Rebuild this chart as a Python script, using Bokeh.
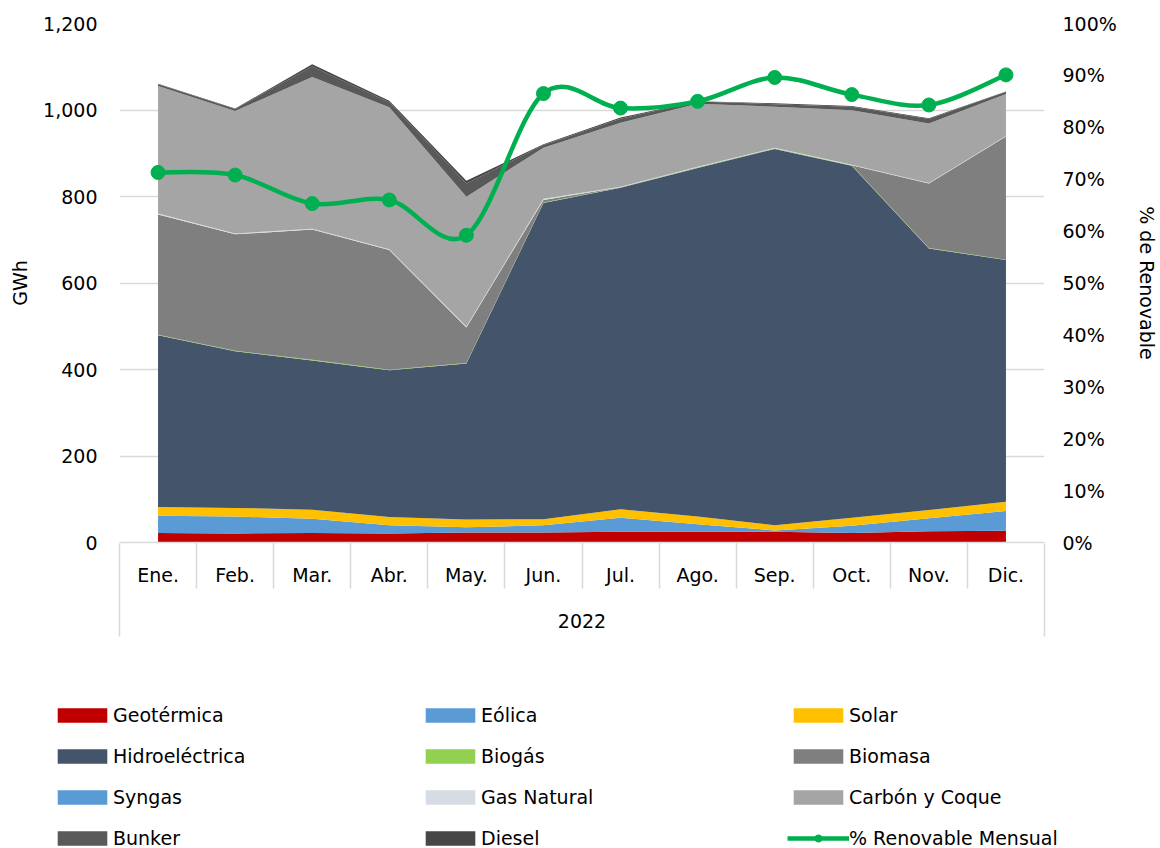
import numpy as np
from bokeh.plotting import figure
from bokeh.layouts import column
from bokeh.models import (ColumnDataSource, Range1d, LinearAxis, FixedTicker,
                          SingleIntervalTicker, CustomJSTickFormatter, NumeralTickFormatter,
                          PrintfTickFormatter, Legend, LegendItem)
from bokeh.embed import file_html
from bokeh.resources import INLINE

# ---------------- data ----------------
months = ["Ene.", "Feb.", "Mar.", "Abr.", "May.", "Jun.", "Jul.", "Ago.", "Sep.", "Oct.", "Nov.", "Dic."]
year_label = "2022"
geotermica = [22, 21, 22, 21, 23, 23, 25, 25, 25, 22, 26, 27]
eolica = [40, 39, 33, 19, 12, 17, 32, 17, 3, 17, 30, 46]
solar = [20, 20, 21, 19, 18, 14, 20, 18, 12, 18, 19, 21]
hidroelectrica = [397, 362, 345, 339, 361, 731, 743, 806, 870, 814, 605, 559]
biogas = [1.5, 1.5, 1.5, 1.2, 1.2, 1.0, 1.0, 1.0, 1.0, 1.0, 1.0, 1.0]
biomasa = [278, 269, 301, 277, 82, 6, 0.5, 0.5, 0.5, 0.5, 149, 285]
syngas = [0, 0, 0, 0, 0, 0, 0, 0, 0, 0, 0, 0]
gas_natural = [2, 2, 2, 2, 2, 3, 1, 1, 1, 1, 1, 1]
carbon_coque = [295, 283, 351, 328, 300, 118, 148, 146, 95, 126, 138, 97]
bunker = [4, 5, 24, 12, 31, 6, 9, 5, 6, 8, 10, 5]
diesel = [1, 1, 5, 3, 6, 2, 3, 1, 2, 2, 2, 1]
pct_renovable = [71.3, 70.8, 65.3, 66.0, 59.2, 86.5, 83.7, 85.0, 89.6, 86.3, 84.3, 90.1]

series_keys = ["geotermica", "eolica", "solar", "hidroelectrica", "biogas", "biomasa",
               "syngas", "gas_natural", "carbon_coque", "bunker", "diesel"]
series_names = ["Geotérmica", "Eólica", "Solar", "Hidroeléctrica", "Biogás", "Biomasa",
                "Syngas", "Gas Natural", "Carbón y Coque", "Bunker", "Diesel"]
series_colors = ["#C00000", "#5B9BD5", "#FFC000", "#44546A", "#92D050", "#7F7F7F",
                 "#5B9BD5", "#D6DCE4", "#A5A5A5", "#595959", "#474747"]
line_name = "% Renovable Mensual"
line_color = "#00B050"

FONT = "DejaVu Sans"
FS = "19px"
GRID = "#D9D9D9"

n = len(months)
xpos = [i + 0.5 for i in range(n)]  # category centres

src = ColumnDataSource(dict(x=xpos, month=months, geotermica=geotermica, eolica=eolica, solar=solar,
                            hidroelectrica=hidroelectrica, biogas=biogas, biomasa=biomasa,
                            syngas=syngas, gas_natural=gas_natural, carbon_coque=carbon_coque,
                            bunker=bunker, diesel=diesel, pct=pct_renovable))

H1 = 690
p = figure(width=1160, height=H1, output_backend="svg", toolbar_location=None,
           x_range=Range1d(0, n), y_range=Range1d(0, 1200),
           x_axis_location=None,
           min_border_left=119, min_border_right=116, min_border_top=23,
           min_border_bottom=H1 - 23 - 519)
p.frame_align = False
p.outline_line_color = None
p.background_fill_color = None
p.border_fill_color = "white"
p.extra_y_ranges = {"pct": Range1d(0, 100)}

p.xgrid.visible = False
p.ygrid.grid_line_color = GRID
p.ygrid.grid_line_width = 1.5

# left axis
ya = p.yaxis[0]
ya.ticker = SingleIntervalTicker(interval=200)
ya.formatter = NumeralTickFormatter(format="0,0")
ya.axis_line_color = None
ya.major_tick_line_color = None
ya.minor_tick_line_color = None
ya.major_tick_out = 0
ya.minor_tick_out = 0
ya.major_label_standoff = 22
ya.major_label_text_font = FONT
ya.major_label_text_font_size = FS
ya.major_label_text_color = "#000000"
ya.axis_label = "GWh"
ya.axis_label_standoff = 9
ya.axis_label_text_font = FONT
ya.axis_label_text_font_size = FS
ya.axis_label_text_font_style = "normal"
ya.axis_label_text_color = "#000000"

# right axis
ra = LinearAxis(y_range_name="pct", ticker=SingleIntervalTicker(interval=10),
                formatter=PrintfTickFormatter(format="%d%%"))
ra.axis_line_color = None
ra.major_tick_line_color = None
ra.minor_tick_line_color = None
ra.major_tick_out = 0
ra.minor_tick_out = 0
ra.major_label_standoff = 18
ra.major_label_text_font = FONT
ra.major_label_text_font_size = FS
ra.major_label_text_color = "#000000"
ra.axis_label = "% de Renovable"
ra.axis_label_standoff = 16
ra.axis_label_text_font = FONT
ra.axis_label_text_font_size = FS
ra.axis_label_text_font_style = "normal"
ra.axis_label_text_color = "#000000"
p.add_layout(ra, "right")

# month axis with separators
ax1 = LinearAxis(ticker=FixedTicker(ticks=xpos, minor_ticks=list(range(1, n))),
                 formatter=CustomJSTickFormatter(args=dict(months=months),
                                                 code="return months[Math.floor(tick)]"))
ax1.axis_line_color = GRID
ax1.axis_line_width = 1.5
ax1.major_tick_line_color = None
ax1.major_tick_out = 0
ax1.major_tick_in = 0
ax1.minor_tick_line_color = GRID
ax1.minor_tick_line_width = 1.5
ax1.minor_tick_out = 46
ax1.minor_tick_in = 0
ax1.major_label_standoff = -25
ax1.major_label_text_font = FONT
ax1.major_label_text_font_size = FS
ax1.major_label_text_color = "#000000"
p.add_layout(ax1, "below")

# year group axis
ax2 = LinearAxis(ticker=FixedTicker(ticks=[], minor_ticks=[0, n]))
ax2.axis_line_color = None
ax2.major_tick_line_color = None
ax2.major_tick_out = 0
ax2.major_tick_in = 0
ax2.major_label_standoff = 0
ax2.minor_tick_line_color = GRID
ax2.minor_tick_line_width = 1.5
ax2.minor_tick_in = 45
ax2.minor_tick_out = 48
ax2.axis_label = year_label
ax2.axis_label_standoff = -23
ax2.axis_label_text_font = FONT
ax2.axis_label_text_font_size = FS
ax2.axis_label_text_font_style = "normal"
ax2.axis_label_text_color = "#000000"
p.add_layout(ax2, "below")

# stacked areas
area_renderers = p.varea_stack(stackers=series_keys, x="x", color=series_colors, source=src)

# smoothed line (Excel-like cubic bezier through the monthly values)
xs = np.array(xpos, dtype=float)
ys = np.array(pct_renovable, dtype=float)
def at(a, i):
    return a[min(max(i, 0), n - 1)]
x0 = xs[:-1]; y0 = ys[:-1]; x1 = xs[1:]; y1 = ys[1:]
cx0 = np.array([xs[i] + (at(xs, i + 1) - at(xs, i - 1)) / 6 for i in range(n - 1)])
cy0 = np.array([ys[i] + (at(ys, i + 1) - at(ys, i - 1)) / 6 for i in range(n - 1)])
cx1 = np.array([xs[i + 1] - (at(xs, i + 2) - at(xs, i)) / 6 for i in range(n - 1)])
cy1 = np.array([ys[i + 1] - (at(ys, i + 2) - at(ys, i)) / 6 for i in range(n - 1)])
bz = p.bezier(x0=x0, y0=y0, x1=x1, y1=y1, cx0=cx0, cy0=cy0, cx1=cx1, cy1=cy1,
              line_color=line_color, line_width=4.5, line_cap="round",
              y_range_name="pct")
sc = p.scatter(x="x", y="pct", source=src, size=14, color=line_color, y_range_name="pct")

# ---------------- legend strip (separate figure below the chart) ----------------
# same series drawn into a range that shows none of them; only their legend swatches appear
H2 = 848 - H1
q = figure(width=1160, height=H2, output_backend="svg", toolbar_location=None,
           x_range=Range1d(0, n), y_range=Range1d(-10, -5),
           x_axis_location=None, y_axis_location=None,
           min_border_left=0, min_border_right=0, min_border_top=0, min_border_bottom=0)
q.frame_align = False
q.outline_line_color = None
q.grid.visible = False
q.background_fill_color = None
q.border_fill_color = "white"

proxy = q.varea_stack(stackers=series_keys, x="x", color=series_colors, source=src)
lp = q.line(x="x", y="pct", source=src, line_color=line_color, line_width=4.5)
sp = q.scatter(x="x", y="pct", source=src, size=14, color=line_color)

items = [LegendItem(label=nm, renderers=[r]) for nm, r in zip(series_names, proxy)]
items.append(LegendItem(label=line_name, renderers=[lp, sp]))
leg = Legend(items=items, location=(51, -1), orientation="horizontal", ncols=3,
             glyph_width=62, glyph_height=18, label_standoff=0, label_width=287,
             label_height=22, spacing=19, padding=0, margin=0,
             border_line_color=None, background_fill_alpha=0,
             label_text_font=FONT, label_text_font_size=FS, label_text_color="#000000")
q.add_layout(leg, "center")

open("out.html", "w").write(file_html(column(p, q, spacing=0), INLINE))
